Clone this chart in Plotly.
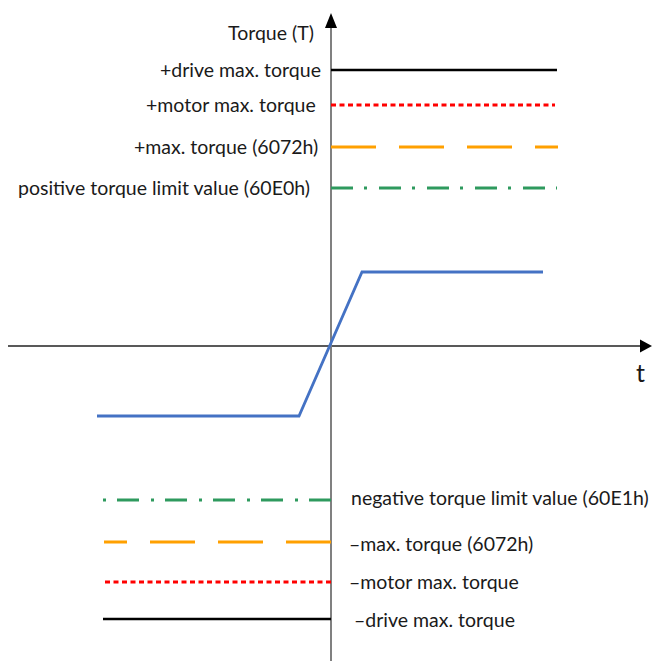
import plotly.graph_objects as go

# ---- data (abstract units; origin at the axes crossing) ----
limit_names_pos = ["+drive max. torque", "+motor max. torque", "+max. torque (6072h)",
                   "positive torque limit value (60E0h)"]
limit_names_neg = ["\u2013drive max. torque", "\u2013motor max. torque", "\u2013max. torque (6072h)",
                   "negative torque limit value (60E1h)"]
pos_levels = [276, 241, 199, 158]
neg_levels = [-273, -236, -196, -154]
pos_t_end = [226, 224, 227, 226]
neg_t_start = [-228, -226, -227, -228]
line_colors = ["#000000", "#ff0000", "#ffa000", "#2e9a5e"]
line_dashes = ["solid", "5px,3.5px", "45px,23px", "22px,11px,3px,12px"]

torque_t = [-234, -32, 31, 212]
torque_v = [-70, -70, 74, 74]

pos_label_x = [-8, -13, -11, -19]
neg_label_x = [21, 16, 16, 18]
neg_label_y = [-273, -235, -197, -151]

fig = go.Figure()

for lvl, te, c, d in zip(pos_levels, pos_t_end, line_colors, line_dashes):
    fig.add_trace(go.Scatter(x=[0, te], y=[lvl, lvl], mode="lines",
                             line=dict(color=c, width=3 if c != "#000000" else 2.5, dash=d),
                             hoverinfo="skip", showlegend=False))
for lvl, ts, c, d in zip(neg_levels, neg_t_start, line_colors, line_dashes):
    fig.add_trace(go.Scatter(x=[0, ts], y=[lvl, lvl], mode="lines",
                             line=dict(color=c, width=3 if c != "#000000" else 2.5, dash=d),
                             hoverinfo="skip", showlegend=False))

fig.add_trace(go.Scatter(x=torque_t, y=torque_v, mode="lines",
                         line=dict(color="#4472c4", width=2.8),
                         hoverinfo="skip", showlegend=False))

# axes with arrows
shapes = [
    dict(type="line", x0=-323, x1=312, y0=0, y1=0, line=dict(color="#222222", width=1.5), layer="below"),
    dict(type="path", path="M 321 0 L 309 6.5 L 309 -6.5 Z", fillcolor="#000000", line=dict(width=0)),
    dict(type="line", x0=0, x1=0, y0=320, y1=-320, line=dict(color="#808080", width=2), layer="below"),
    dict(type="path", path="M 0 333 L -6 318 L 6 318 Z", fillcolor="#000000", line=dict(width=0)),
]

font = dict(family="Lato", size=19.5, color="#1a1a1a")
ann = []
for name, lx, ly in zip(limit_names_pos, pos_label_x, pos_levels):
    ann.append(dict(x=lx, y=ly + 1, text=name, xanchor="right", yanchor="middle",
                    showarrow=False, font=font))
for name, lx, ly in zip(limit_names_neg, neg_label_x, neg_label_y):
    ann.append(dict(x=lx, y=ly, text=name, xanchor="left", yanchor="middle",
                    showarrow=False, font=font))
ann.append(dict(x=-15, y=314, text="Torque (T)", xanchor="right", yanchor="middle",
                showarrow=False, font=font))
ann.append(dict(x=309, y=-26, text="t", xanchor="center", yanchor="middle",
                showarrow=False, font=dict(family="Lato", size=25, color="#1a1a1a")))

fig.update_layout(
    width=652, height=661,
    margin=dict(l=0, r=0, t=0, b=0),
    paper_bgcolor="white", plot_bgcolor="white",
    xaxis=dict(range=[-331, 321], visible=False, fixedrange=True),
    yaxis=dict(range=[-315, 346], visible=False, fixedrange=True),
    shapes=shapes, annotations=ann,
)

fig.write_html("out.html", config={"displayModeBar": False},
               post_script="document.body.style.margin='0';document.body.style.overflow='hidden';")
